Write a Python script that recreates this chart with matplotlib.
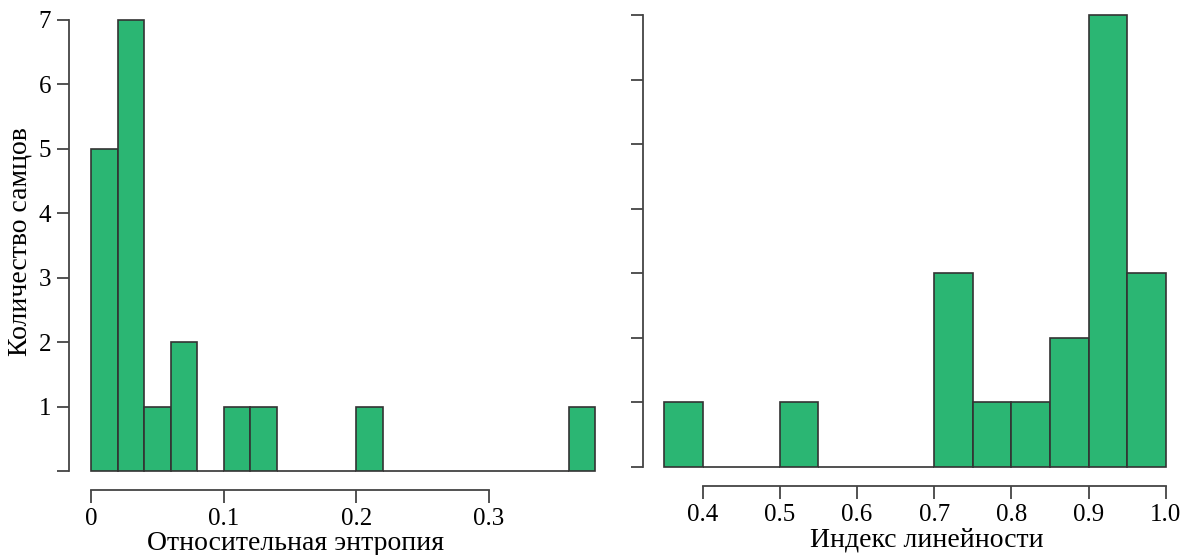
import numpy as np
import matplotlib
matplotlib.use('Agg')
import matplotlib.pyplot as plt

# relative entropy histogram (bin width 0.02)
entropy_edges = np.round(np.arange(0, 0.38 + 0.001, 0.02), 3)
entropy_counts = [5, 7, 1, 2, 0, 1, 1, 0, 0, 0, 1, 0, 0, 0, 0, 0, 0, 0, 1]
entropy_ticks = [0, 0.1, 0.2, 0.3]
entropy_labels = ['0', '0.1', '0.2', '0.3']

# linearity index histogram (bin width 0.05)
linear_edges = np.round(np.arange(0.35, 1.0 + 0.001, 0.05), 3)
linear_counts = [1, 0, 0, 1, 0, 0, 0, 3, 1, 1, 2, 7, 3]
linear_ticks = [0.4, 0.5, 0.6, 0.7, 0.8, 0.9, 1.0]
linear_labels = ['0.4', '0.5', '0.6', '0.7', '0.8', '0.9', '1.0']

y_ticks = list(range(8))

BAR = '#2bb673'
EDGE = '#333333'
AXC = '#444444'

plt.rcParams['font.family'] = ['Liberation Serif', 'DejaVu Serif']

W, H = 1192, 555
fig = plt.figure(figsize=(W / 100, H / 100), dpi=100)


def px_axes(x0, x1, y_top, y_bot):
    return fig.add_axes([x0 / W, 1 - y_bot / H, (x1 - x0) / W, (y_bot - y_top) / H])


def style(ax, xticks, xlabels, xbounds, ylabels):
    for s in ['top', 'right']:
        ax.spines[s].set_visible(False)
    for s in ['left', 'bottom']:
        ax.spines[s].set_color(AXC)
        ax.spines[s].set_linewidth(1.3)
    ax.spines['left'].set_bounds(0, 7)
    ax.spines['bottom'].set_bounds(*xbounds)
    ax.set_xticks(xticks)
    ax.set_xticklabels(xlabels)
    ax.set_yticks(y_ticks)
    ax.set_yticklabels(ylabels)
    ax.tick_params(length=9, width=1.3, color=AXC, labelsize=18, pad=4)


# left panel: x=0 at px 91, 0.3 at px 489 ; y=0 at px 471, 7 at px 20
sx = (489 - 91) / 0.3
sy = (471 - 20) / 7
ax1 = px_axes(69, 600, 12, 490)
ax1.set_xlim((69 - 91) / sx, (600 - 91) / sx)
ax1.set_ylim(-(490 - 471) / sy, (471 - 12) / sy)
ax1.bar(entropy_edges[:-1], entropy_counts, width=0.02, align='edge',
        color=BAR, edgecolor=EDGE, linewidth=1.2)
style(ax1, entropy_ticks, entropy_labels, (0, 0.3),
      [''] + [str(v) for v in y_ticks[1:]])
ax1.set_xlabel('Относительная энтропия', fontsize=20, labelpad=1)
ax1.xaxis.label.set_x(0.4275)
ax1.set_ylabel('Количество самцов', fontsize=20, labelpad=4)
ax1.yaxis.label.set_y(0.519)

# right panel: x=0.35 at px 664, per 0.05 = 38.6 px ; y=0 at px 467, 7 at 15
sx2 = 38.6 / 0.05
sy2 = (467 - 15) / 7
ax2 = px_axes(643, 1172, 8, 486)
ax2.set_xlim(0.35 - (664 - 643) / sx2, 0.35 + (1172 - 664) / sx2)
ax2.set_ylim(-(486 - 467) / sy2, (467 - 8) / sy2)
ax2.bar(linear_edges[:-1], linear_counts, width=0.05, align='edge',
        color=BAR, edgecolor=EDGE, linewidth=1.2)
style(ax2, linear_ticks, linear_labels, (0.4, 1.0), [''] * len(y_ticks))
ax2.set_xlabel('Индекс линейности', fontsize=20, labelpad=1)
ax2.xaxis.label.set_x(0.537)

fig.savefig('out.png', dpi=100)
